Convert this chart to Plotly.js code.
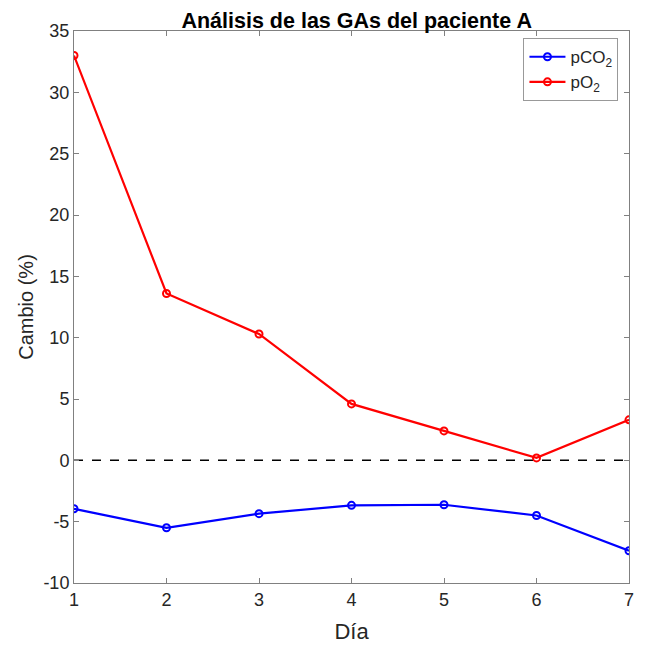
<!DOCTYPE html>
<html>
<head>
<meta charset="utf-8">
<script src="https://cdn.plot.ly/plotly-3.0.1.min.js"></script>
<style>html,body{margin:0;padding:0;background:#fff;}</style>
</head>
<body>
<div id="chart" style="width:645px;height:645px;"></div>
<script>
const dias = [1, 2, 3, 4, 5, 6, 7];
const pCO2 = [-3.95, -5.5, -4.35, -3.67, -3.62, -4.5, -7.37];
const pO2 = [33.0, 13.6, 10.3, 4.6, 2.4, 0.2, 3.3];
const refLine = [0, 0];
const refX = [1, 7];
const yTicks = [-10, -5, 0, 5, 10, 15, 20, 25, 30, 35];

const font = 'Liberation Sans, Arial, sans-serif';
const axisCol = '#808080';
const textCol = '#262626';

const traces = [
  {x: refX, y: refLine, mode: 'lines', line: {color: '#000', width: 1.5, dash: 'dash'}, showlegend: false, hoverinfo: 'skip'},
  {x: dias, y: pCO2, mode: 'lines+markers', name: 'pCO<sub>2</sub>',
   line: {color: '#0000ff', width: 2.2}, marker: {symbol: 'circle-open', size: 7, color: '#0000ff', line: {width: 2}}},
  {x: dias, y: pO2, mode: 'lines+markers', name: 'pO<sub>2</sub>',
   line: {color: '#ff0000', width: 2.2}, marker: {symbol: 'circle-open', size: 7, color: '#ff0000', line: {width: 2}}}
];

const layout = {
  width: 645, height: 645,
  margin: {l: 74, r: 16, t: 31, b: 62},
  paper_bgcolor: '#fff', plot_bgcolor: '#fff',
  font: {family: font, color: textCol},
  title: {text: '<b>Análisis de las GAs del paciente A</b>', font: {size: 21.5, color: '#000', family: font}, x: 0.553, xanchor: 'center', y: 0.969, yanchor: 'middle'},
  xaxis: {
    range: [1, 7], tickvals: dias, ticktext: dias.map(String),
    showgrid: false, zeroline: false, showline: true, linecolor: axisCol, linewidth: 1,
    mirror: 'ticks', ticks: 'inside', ticklen: 5, tickcolor: axisCol,
    tickfont: {size: 18, color: textCol}, title: {text: 'Día', font: {size: 22, color: textCol}, standoff: 15}
  },
  yaxis: {
    range: [-10, 35], tickvals: yTicks, ticktext: yTicks.map(String),
    showgrid: false, zeroline: false, showline: true, linecolor: axisCol, linewidth: 1,
    mirror: 'ticks', ticks: 'inside', ticklen: 5, tickcolor: axisCol,
    tickfont: {size: 18, color: textCol}, title: {text: 'Cambio (%)', font: {size: 20, color: textCol}, standoff: 4}
  },
  legend: {x: 0.981, y: 0.987, xanchor: 'right', yanchor: 'top', bgcolor: '#fff', bordercolor: '#999', borderwidth: 1,
           font: {size: 17, color: textCol}, tracegroupgap: 0, itemwidth: 36},
  showlegend: true
};

Plotly.newPlot('chart', traces, layout, {displayModeBar: false, staticPlot: true});
</script>
</body>
</html>
